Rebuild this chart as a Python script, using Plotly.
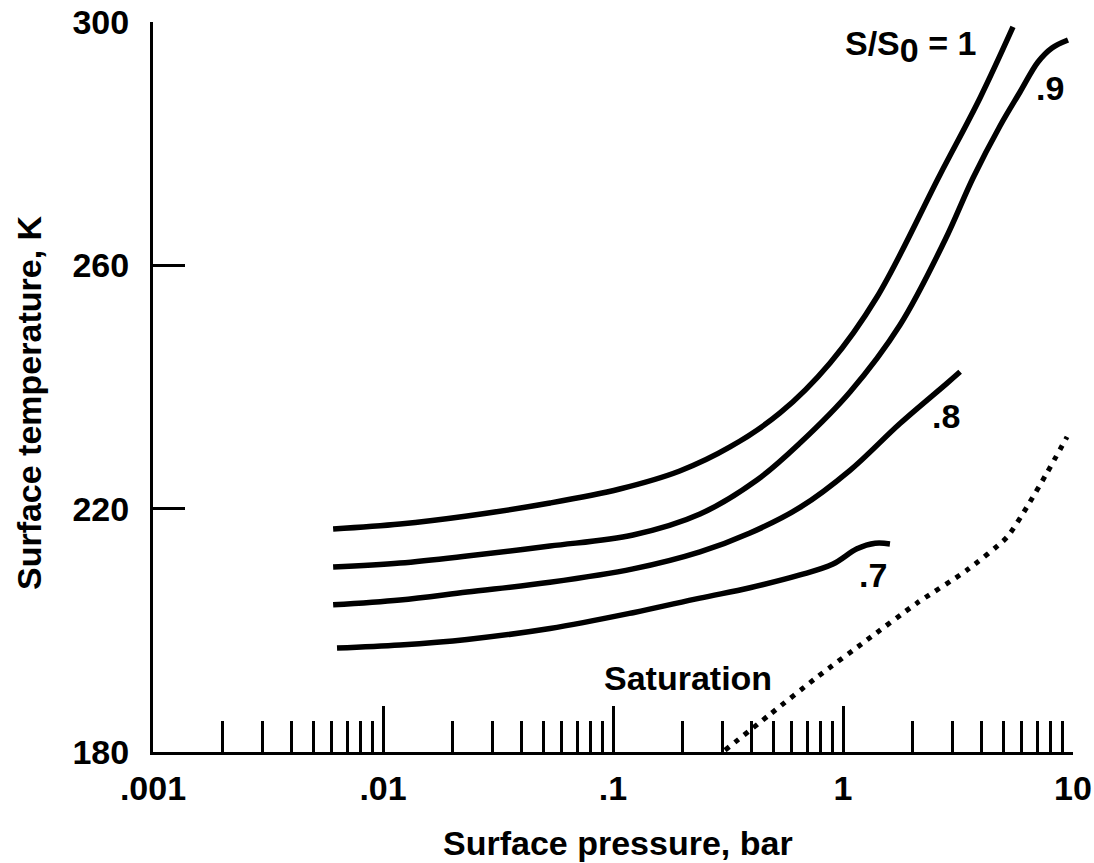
import math
import plotly.graph_objects as go

# Surface pressure (bar) and surface temperature (K) along each S/S0 curve
p_s10 = [0.00607, 0.01186, 0.0232, 0.0532, 0.1069, 0.1951, 0.3226, 0.5324, 0.8787, 1.405, 2.641, 3.942, 5.484]
t_s10 = [216.66, 217.48, 218.80, 220.93, 223.23, 226.19, 230.14, 235.73, 243.95, 254.79, 274.90, 287.51, 299.18]

p_s09 = [0.00607, 0.01186, 0.0232, 0.0532, 0.1222, 0.2389, 0.4228, 0.6501, 1.0725, 1.769, 2.777, 3.675, 4.815, 5.884, 7.043, 8.103, 9.513]
t_s09 = [210.41, 211.07, 212.22, 213.86, 215.67, 219.12, 224.71, 230.79, 239.18, 250.19, 264.16, 274.36, 282.91, 288.49, 293.42, 295.73, 297.04]

p_s08 = [0.00607, 0.01186, 0.0232, 0.0532, 0.1222, 0.2389, 0.394, 0.6501, 1.0725, 1.769, 2.83, 3.23]
t_s08 = [204.2, 205.0, 206.3, 207.9, 210.1, 212.9, 216.0, 220.2, 226.3, 234.0, 240.6, 242.5]

p_s07 = [0.00631, 0.01186, 0.0232, 0.0532, 0.1222, 0.2389, 0.394, 0.6501, 0.905, 1.15, 1.38, 1.60]
t_s07 = [197.1, 197.6, 198.5, 200.3, 202.9, 205.3, 207.0, 209.1, 210.9, 213.4, 214.3, 214.2]

# Saturation curve
p_sat = [0.307, 0.482, 0.771, 1.27, 2.10, 3.46, 5.16, 6.31, 7.71, 9.42]
t_sat = [180.3, 186.2, 192.3, 198.4, 204.5, 209.9, 215.3, 220.3, 225.9, 231.8]

# Axis ticks
x_major = [0.001, 0.01, 0.1, 1, 10]
x_major_text = [".001", ".01", ".1", "1", "10"]
x_minor = [m * d for d in (0.001, 0.01, 0.1, 1) for m in range(2, 10)]
y_ticks = [180, 220, 260, 300]

FONT = "Liberation Sans, Arial, Helvetica, sans-serif"
solid = dict(color="black", width=5.5, shape="spline", smoothing=1.0)

fig = go.Figure()
for p, t in [(p_s10, t_s10), (p_s09, t_s09), (p_s08, t_s08), (p_s07, t_s07)]:
    fig.add_trace(go.Scatter(x=p, y=t, mode="lines", line=solid,
                             showlegend=False, hoverinfo="skip"))
fig.add_trace(go.Scatter(x=p_sat, y=t_sat, mode="lines",
                         line=dict(color="black", width=5, dash="5px,7px",
                                   shape="spline", smoothing=0.6),
                         showlegend=False, hoverinfo="skip"))

# Curve labels (x positions in bar, converted for the log axis)
label_font = dict(family=FONT, size=34, color="black", weight="bold")
labels = [
    (3.86, 296.0, "S/S<sub><span style='font-size:34px'>0</span></sub> = 1", "right"),
    (7.95, 289.2, ".9", "center"),
    (2.81, 235.2, ".8", "center"),
    (1.35, 209.1, ".7", "center"),
    (0.212, 192.2, "Saturation", "center"),
]
for x, y, txt, xa in labels:
    fig.add_annotation(x=math.log10(x), y=y, xref="x", yref="y", text=txt,
                       showarrow=False, xanchor=xa, yanchor="middle",
                       font=label_font)

title_font = dict(family=FONT, size=34, color="black", weight="bold")
fig.add_annotation(x=0.505, y=-0.125, xref="paper", yref="paper",
                   text="Surface pressure, bar", showarrow=False,
                   xanchor="center", yanchor="middle", font=title_font)
fig.add_annotation(x=-0.134, y=0.479, xref="paper", yref="paper",
                   text="Surface temperature, K", showarrow=False, textangle=-90,
                   xanchor="center", yanchor="middle", font=title_font)

tick_font = dict(family=FONT, size=34, color="black", weight="bold")
fig.update_xaxes(type="log", range=[-3, 1], tickmode="array",
                 tickvals=x_major, ticktext=x_major_text,
                 ticks="inside", ticklen=46, tickwidth=3, tickcolor="black",
                 minor=dict(ticks="inside", tickvals=x_minor, ticklen=31,
                            tickwidth=2.5, tickcolor="black", showgrid=False),
                 showline=True, linecolor="black", linewidth=3,
                 showgrid=False, zeroline=False, tickfont=tick_font,
                 ticklabelstandoff=4, automargin=False)
fig.update_yaxes(range=[180, 300], tickmode="array", tickvals=y_ticks,
                 ticks="inside", ticklen=32, tickwidth=3, tickcolor="black",
                 showline=True, linecolor="black", linewidth=3,
                 showgrid=False, zeroline=False, tickfont=tick_font,
                 ticklabelstandoff=14, automargin=False)

fig.update_layout(width=1094, height=863,
                  margin=dict(l=153, r=21, t=22, b=111),
                  plot_bgcolor="white", paper_bgcolor="white")

fig.write_html("out.html")
